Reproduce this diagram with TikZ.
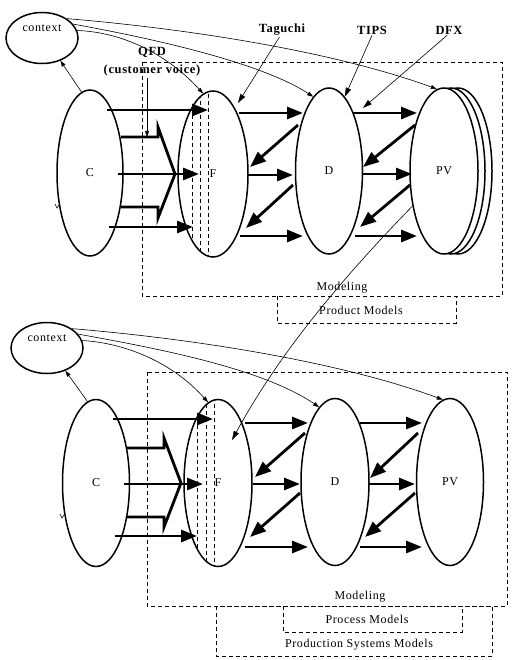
\documentclass[tikz,border=0pt]{standalone}
\usepackage{fontspec}
\setmainfont{Liberation Serif}[LetterSpace=5]
\usetikzlibrary{arrows.meta,shapes.geometric,calc}
\newcommand{\fsz}{\fontsize{12}{14}\selectfont}
\newcommand{\bfsz}{\bfseries\fontsize{12.5}{18}\selectfont}
\begin{document}
\begin{tikzpicture}[x=1pt,y=-1pt,
  ell/.style={ellipse, draw, line width=1.5pt, inner sep=0pt, fill=white, font=\fsz},
  txt/.style={inner sep=0pt, font=\fsz},
  btxt/.style={inner sep=1pt, font=\bfsz, align=center},
  bigar/.style={line width=2.8pt, -{Triangle[length=16pt,width=12pt]}},
  blockar/.style={line width=2.8pt, line join=miter},
  thinar/.style={line width=0.6pt, -{Triangle[length=6pt,width=4pt]}},
  thinbig/.style={line width=0.6pt, -{Triangle[length=9pt,width=5.5pt]}},
  dbox/.style={dash pattern=on 4pt off 3pt, line width=0.7pt},
  dline/.style={dash pattern=on 4pt off 3pt, line width=0.8pt}]
\useasboundingbox (0,0) rectangle (513,660);

% ---------------- dashed boxes ----------------
\draw[dbox] (142,62) rectangle (502,296);
\draw[dbox] (277,296) rectangle (456,323);
\draw[dbox] (147,372) rectangle (507,606);
\draw[dbox] (283,606) rectangle (462,632);
\draw[dbox] (216,606) rectangle (492,656);

\node[txt] (modA) at (342,288) {Modeling};
\node[txt] (prodA) at (361,310) {Product Models};
\node[txt] (modB) at (360,597) {Modeling};
\node[txt] (procB) at (367,619) {Process Models};
\node[txt] (psmB) at (359,645) {Production Systems Models};

% ---------------- top half ----------------
\node[ell, minimum width=72pt, minimum height=51pt] (ctxA) at (42,38) {};
\node[txt] (ctxAt) at (42,28) {context};
\node[ell, minimum width=66pt, minimum height=166pt] (CA) at (90,173) {C};
\node[ell, minimum width=70pt, minimum height=166pt] (FA) at (213,174) {F};
\node[ell, minimum width=67pt, minimum height=166pt] (DA) at (329,171) {D};
\node[ell, minimum width=68pt, minimum height=166pt] (PVA3) at (458,171) {};
\node[ell, minimum width=68pt, minimum height=166pt] (PVA2) at (451,171) {};
\node[ell, minimum width=68pt, minimum height=166pt] (PVA) at (444,171) {PV};

\begin{scope}
\clip (213,174) ellipse [x radius=35, y radius=83];
\draw[dline] (192,80) -- (192,270);
\draw[dline] (200,80) -- (200,270);
\draw[dline] (208,80) -- (208,270);
\end{scope}

% C -> F
\draw[bigar] (107,110) -- (208,110);
\draw[bigar] (118,174) -- (199,174);
\draw[bigar] (109,227) -- (193,227);
\draw[blockar] (121,137) -- (158,137) -- (158,127) -- (175,174) -- (158,218) -- (158,207) -- (121,207);
% F -> D
\draw[bigar] (239,113) -- (303,113);
\draw[bigar] (248,175) -- (293,175);
\draw[bigar] (240,236) -- (303,236);
\draw[bigar] (298,125) -- (250,167);
\draw[bigar] (293,185) -- (246,228);
% D -> PV
\draw[bigar] (353,113) -- (417,113);
\draw[bigar] (363,174) -- (412,174);
\draw[bigar] (355,236) -- (417,236);
\draw[bigar] (415,125) -- (363,167);
\draw[bigar] (410,185) -- (360,227);

% labels with pointers
\node[btxt] (QFD) at (152,62) {QFD\\(customer voice)};
\coordinate (qfdE) at (147,137);
\draw[thinar] (QFD.south -| qfdE) -- (qfdE);
\node[btxt] (Tag) at (282,30) {Taguchi};
\node[btxt] (Tips) at (372,30) {TIPS};
\node[btxt] (Dfx) at (449,30) {DFX};
\coordinate (tagE) at (238,103);
\coordinate (dfxE) at (363,108);
\draw[thinbig] (Tag.250) -- (tagE);
\draw[thinbig] (Tips.south) -- (DA.78);
\draw[thinbig] (Dfx.250) -- (dfxE);

% context links
\draw[thinar] (CA.96) -- (ctxA.-51);
\draw[thinar] (ctxA.38) .. controls (180,28) and (330,50) .. (PVA.95);
\draw[thinar] (ctxA.24) .. controls (150,38) and (260,62) .. (DA.102);
\draw[thinar] (ctxA.12) .. controls (120,32) and (165,52) .. (FA.97);
\draw[line width=0.6pt] (55,204) -- (57,208) -- (59,205);

% ---------------- bottom half ----------------
\node[ell, minimum width=72pt, minimum height=51pt] (ctxB) at (47,348) {};
\node[txt] (ctxBt) at (47,338) {context};
\node[ell, minimum width=67pt, minimum height=167pt] (CB) at (96,483) {C};
\node[ell, minimum width=68pt, minimum height=167pt] (FB) at (218,483) {F};
\node[ell, minimum width=68pt, minimum height=167pt] (DB) at (335,482) {D};
\node[ell, minimum width=67pt, minimum height=167pt] (PVB) at (450,482) {PV};

\begin{scope}
\clip (218,483) ellipse [x radius=34, y radius=83.5];
\draw[dline] (197,390) -- (197,580);
\draw[dline] (206,390) -- (206,580);
\draw[dline] (214,390) -- (214,580);
\end{scope}

% C -> F
\draw[bigar] (113,419) -- (213,419);
\draw[bigar] (124,484) -- (203,484);
\draw[bigar] (115,536) -- (197,536);
\draw[blockar] (127,448) -- (164,448) -- (164,438) -- (181,483) -- (164,527) -- (164,517) -- (127,517);
% F -> D
\draw[bigar] (245,423) -- (308,423);
\draw[bigar] (253,484) -- (300,484);
\draw[bigar] (245,547) -- (308,547);
\draw[bigar] (305,433) -- (255,477);
\draw[bigar] (300,493) -- (250,537);
% D -> PV
\draw[bigar] (360,423) -- (422,423);
\draw[bigar] (368,484) -- (415,484);
\draw[bigar] (360,547) -- (422,547);
\draw[bigar] (418,433) -- (370,478);
\draw[bigar] (415,493) -- (365,537);

% context links
\draw[thinar] (CB.96) -- (ctxB.-51);
\draw[thinar] (ctxB.38) .. controls (185,338) and (335,360) .. (PVB.95);
\draw[thinar] (ctxB.24) .. controls (155,348) and (262,368) .. (DB.102);
\draw[thinar] (ctxB.12) .. controls (125,343) and (172,362) .. (FB.97);
\draw[line width=0.6pt] (60,514) -- (62,518) -- (64,515);

% link from product view (top) to F (bottom)
\coordinate (fbIn) at (232,440);
\draw[thinbig] (PVA.228) .. controls (323,298) and (272,367) .. (fbIn);
\end{tikzpicture}
\end{document}
